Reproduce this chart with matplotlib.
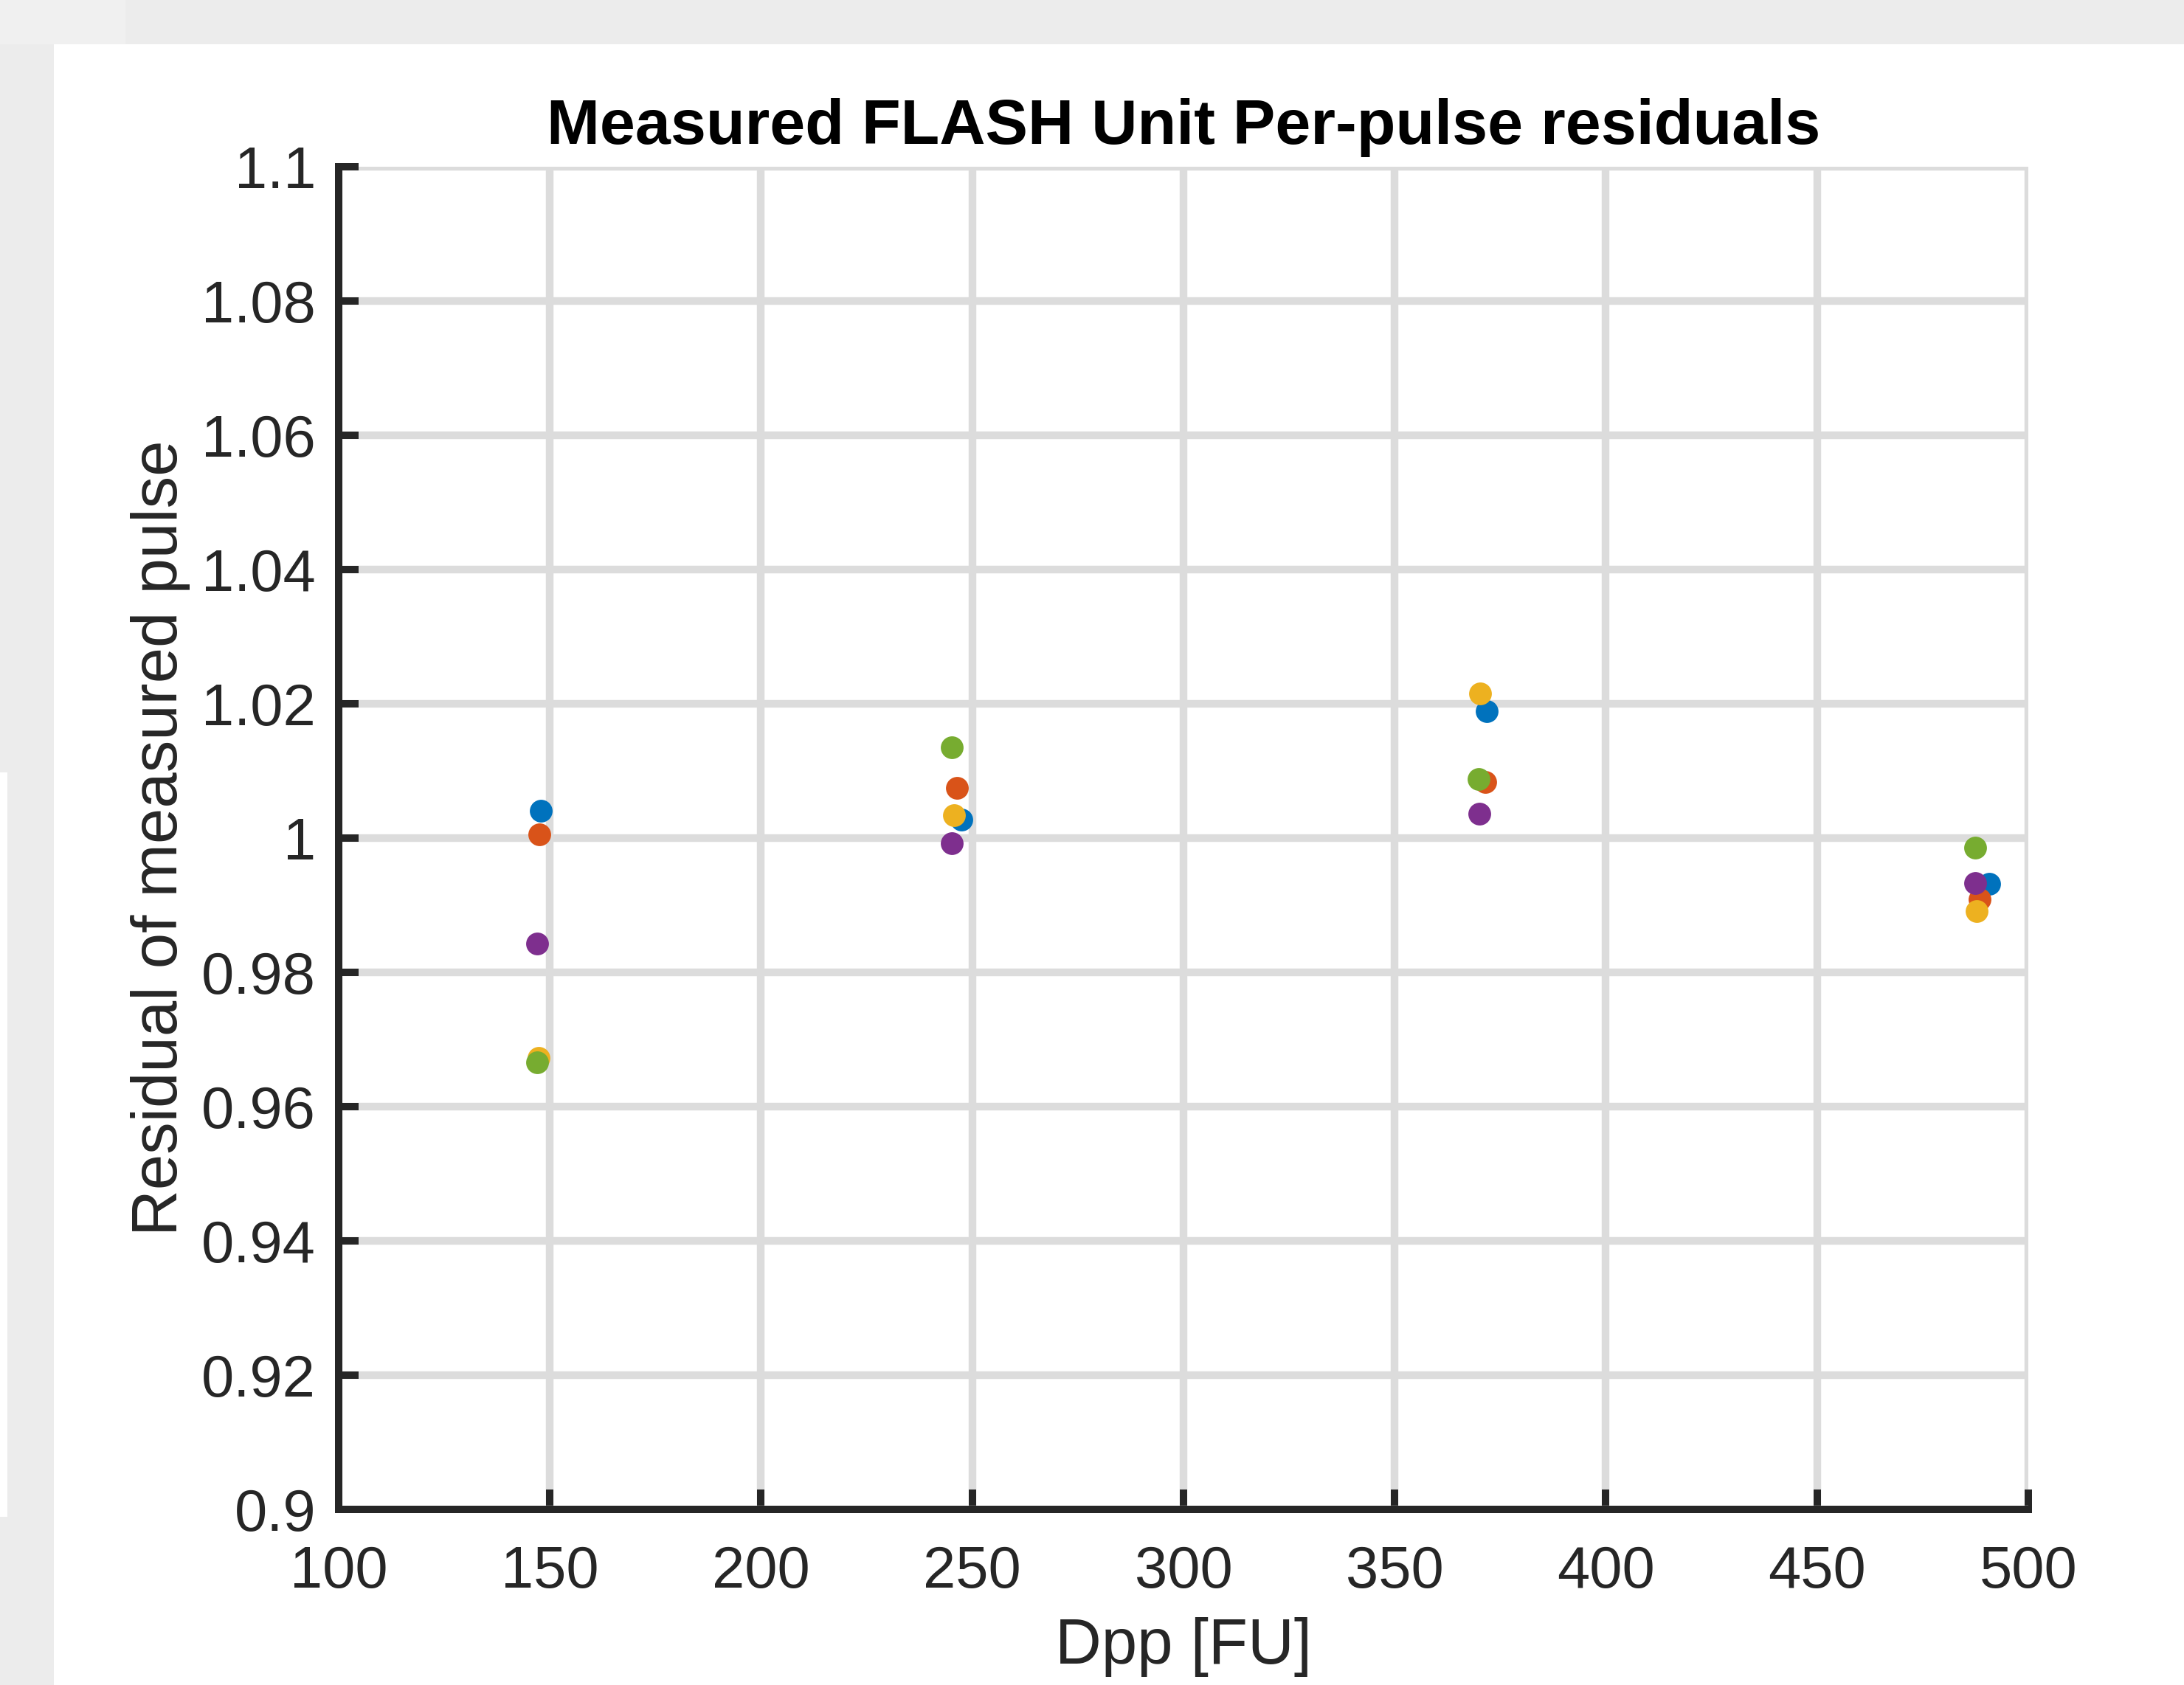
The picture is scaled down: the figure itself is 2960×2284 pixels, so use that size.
import matplotlib
matplotlib.use("Agg")
import matplotlib.pyplot as plt
from matplotlib.patches import Rectangle
from matplotlib.ticker import FuncFormatter

plt.rcParams['font.family'] = ['Liberation Sans', 'DejaVu Sans']

# Data: per-pulse series (MATLAB default colour order)
dpp_pulse1 = [147.9, 247.5, 371.8, 490.7]
res_pulse1 = [1.0041, 1.0028, 1.0189, 0.9932]
dpp_pulse2 = [147.5, 246.3, 371.5, 488.5]
res_pulse2 = [1.0006, 1.0075, 1.0084, 0.9909]
dpp_pulse3 = [147.3, 245.6, 370.2, 487.8]
res_pulse3 = [0.9672, 1.0034, 1.0215, 0.9891]
dpp_pulse4 = [147.0, 245.2, 370.0, 487.5]
res_pulse4 = [0.9843, 0.9992, 1.0036, 0.9933]
dpp_pulse5 = [147.0, 245.2, 369.9, 487.5]
res_pulse5 = [0.9666, 1.0135, 1.0088, 0.9986]

series = [
    (dpp_pulse1, res_pulse1, '#0072BD'),
    (dpp_pulse2, res_pulse2, '#D95319'),
    (dpp_pulse3, res_pulse3, '#EDB120'),
    (dpp_pulse4, res_pulse4, '#7E2F8E'),
    (dpp_pulse5, res_pulse5, '#77AC30'),
]

x_ticks = [100, 150, 200, 250, 300, 350, 400, 450, 500]
y_ticks = [0.9, 0.92, 0.94, 0.96, 0.98, 1.0, 1.02, 1.04, 1.06, 1.08, 1.1]

W, H, DPI = 2961, 2284, 300
fig = plt.figure(figsize=(W / DPI, H / DPI), dpi=DPI)
fig.patch.set_facecolor('#ececec')

# white panel backgrounds (screenshot framing)
def px_rect(x0, y0, x1, y1, color):
    fig.patches.append(Rectangle((x0 / W, 1 - y1 / H), (x1 - x0) / W, (y1 - y0) / H,
                                 transform=fig.transFigure, facecolor=color,
                                 edgecolor='none', zorder=-10))

px_rect(0, 0, 170, 60, '#f0f0f0')
px_rect(73, 60, W, H, 'white')
px_rect(0, 1047, 10, 2056, 'white')

ax = fig.add_axes([459 / W, 1 - 2046 / H, (2749 - 459) / W, (2046 - 226) / H])
ax.set_facecolor('white')

for xs, ys, c in series:
    ax.plot(xs, ys, linestyle='none', marker='o', markersize=7.4,
            markerfacecolor=c, markeredgecolor=c, markeredgewidth=0, zorder=3)

ax.set_xlim(100, 500)
ax.set_ylim(0.9, 1.1)
ax.set_xticks(x_ticks)
ax.set_yticks(y_ticks)
ax.xaxis.set_major_formatter(FuncFormatter(lambda v, p: f"{v:g}"))
ax.yaxis.set_major_formatter(FuncFormatter(lambda v, p: f"{round(v, 4):g}"))

ax.grid(True, color='#dcdcdc', linewidth=2.5, zorder=0)
ax.set_axisbelow(True)

for s in ['top', 'right']:
    ax.spines[s].set_visible(False)
for s in ['left', 'bottom']:
    ax.spines[s].set_color('#262626')
    ax.spines[s].set_linewidth(2.4)
    ax.spines[s].set_zorder(4)

ax.tick_params(axis='both', direction='in', length=6.4, width=2.4, color='#262626',
               labelsize=19.1, labelcolor='#262626')
ax.tick_params(axis='y', pad=7.4)
ax.tick_params(axis='x', pad=11.5)

ax.set_xlabel('Dpp [FU]', fontsize=20.9, color='#262626')
ax.xaxis.set_label_coords(0.5, -0.08)
ax.set_ylabel('Residual of measured pulse', fontsize=20.9, color='#262626')
ax.yaxis.set_label_coords(-0.0878, 0.5)
ax.set_title('Measured FLASH Unit Per-pulse residuals', fontsize=20.7,
             fontweight='bold', color='black', pad=7.4)

fig.savefig('out.png', dpi=DPI)
